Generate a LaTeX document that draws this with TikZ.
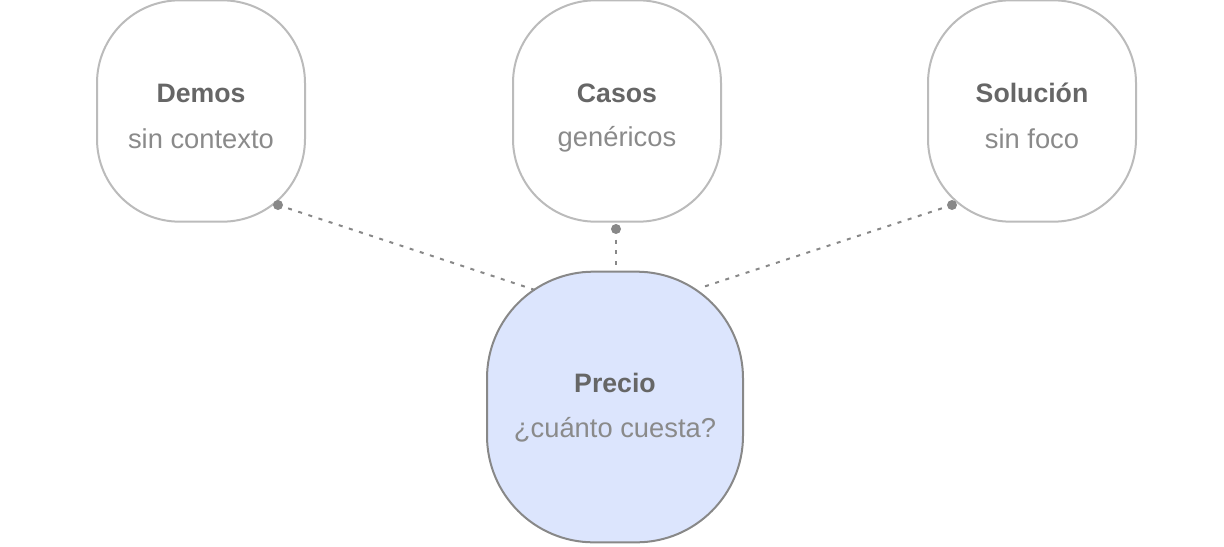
\documentclass[tikz,border=0pt]{standalone}
\usepackage{fontspec}
\setmainfont{Liberation Sans}
\definecolor{edgegray}{HTML}{BBBBBB}
\definecolor{titlegray}{HTML}{666666}
\definecolor{subgray}{HTML}{8A8A8A}
\definecolor{linkgray}{HTML}{888888}
\definecolor{priceblue}{HTML}{DCE5FD}
\tikzset{every picture/.style={line width=0.75pt}}
\tikzset{
  blob/.style={draw=edgegray, line width=1.5pt, rounded corners=62, minimum width=156pt, minimum height=166pt, inner sep=0pt},
  pricebox/.style={blob, draw=linkgray, fill=priceblue, rounded corners=80, minimum width=192pt, minimum height=203pt},
  title/.style={font=\bfseries\fontsize{20}{22}\selectfont, text=titlegray},
  sub/.style={font=\fontsize{20.5}{22}\selectfont, text=subgray},
  link/.style={draw=linkgray, line width=1.5pt, dash pattern=on 3pt off 5pt},
  pin/.style={circle, fill=linkgray, inner sep=0pt, minimum size=7.5pt}
}
\begin{document}
\begin{tikzpicture}[x=0.75pt,y=-0.75pt]
\useasboundingbox (0,0) rectangle (1224,546);

%Blobs
\node [blob] (demos) at (201,111) {};
\node [blob] (casos) at (617,111) {};
\node [blob] (solucion) at (1032,111) {};
\node [pricebox] (precio) at (615,407) {};

%Labels
\node [title] (demost) at (201,93) {Demos};
\node [sub] (demoss) at (201,139) {sin contexto};
\node [title] (casost) at (617,93) {Casos};
\node [sub] (casoss) at (617,139) {genéricos};
\node [title] (solt) at (1032,93) {Solución};
\node [sub] (sols) at (1032,139) {sin foco};
\node [title] (preciot) at (615,383) {Precio};
\node [sub] (precios) at (615,430) {¿cuánto cuesta?};

%Links
\coordinate (demoend) at (278,205);
\coordinate (casoend) at (616,229);
\coordinate (solend) at (952,205);
\coordinate (pricel) at (535,290);
\coordinate (pricem) at (616,270);
\coordinate (pricer) at (700,288);
\draw [link] (demoend) -- (pricel);
\draw [link] (casoend) -- (pricem);
\draw [link] (solend) -- (pricer);
\node [pin] (demopin) at (demoend) {};
\node [pin] (casopin) at (casoend) {};
\node [pin] (solpin) at (solend) {};

\end{tikzpicture}
\end{document}
